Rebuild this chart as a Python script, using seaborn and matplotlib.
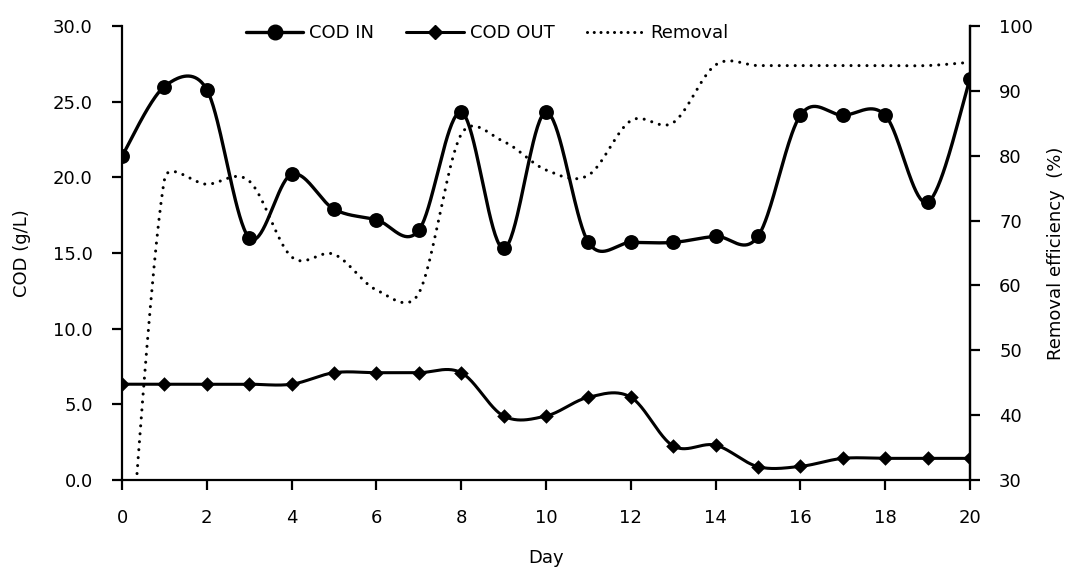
import numpy as np
import pandas as pd
import matplotlib
matplotlib.use("Agg")
import matplotlib.pyplot as plt
from matplotlib.lines import Line2D
from matplotlib.ticker import FormatStrFormatter
import seaborn as sns

# Daily COD measurements (g/L) and removal efficiency (%)
days = list(range(21))
cod_in = [21.4, 26.0, 25.8, 16.0, 20.2, 17.9, 17.2, 16.5, 24.3, 15.3, 24.3,
          15.7, 15.7, 15.7, 16.1, 16.1, 24.1, 24.1, 24.1, 18.35, 26.5]
cod_out = [6.33, 6.33, 6.33, 6.33, 6.33, 7.09, 7.09, 7.09, 7.09, 4.23, 4.23,
           5.47, 5.47, 2.25, 2.3, 0.88, 0.9, 1.43, 1.43, 1.43, 1.43]
removal = [0.0, 76.3, 75.6, 76.1, 64.4, 64.8, 59.3, 58.8, 83.3, 82.2, 77.8,
           77.0, 85.4, 85.1, 94.0, 93.9, 93.9, 93.9, 93.9, 93.9, 94.4]

x_ticks = list(range(0, 21, 2))
left_ticks = [0, 5, 10, 15, 20, 25, 30]
right_ticks = [30, 40, 50, 60, 70, 80, 90, 100]

FS = 13


def smooth_curve(axis, x, y, n=40):
    """Smoothed-line Bezier through the points, built in display space
    (control arms of 1/6 of the neighbour chord, capped at half the
    segment length)."""
    pts = axis.transData.transform(np.column_stack([x, y]).astype(float))
    ext = np.vstack([pts[:1], pts, pts[-1:]])
    t = np.linspace(0, 1, n, endpoint=False)[:, None]
    segs = []
    for i in range(len(pts) - 1):
        p0, p1, p2, p3 = ext[i], ext[i + 1], ext[i + 2], ext[i + 3]
        d01 = np.hypot(*(p1 - p0))
        d12 = np.hypot(*(p2 - p1))
        d23 = np.hypot(*(p3 - p2))
        f = 1 / 6 if d01 / 6 < d12 / 2 else d12 / d01 / 2
        g = 1 / 6 if d23 / 6 < d12 / 2 else d12 / d23 / 2
        c1 = p1 + f * (p2 - p0)
        c2 = p2 + g * (p1 - p3)
        seg = ((1 - t) ** 3 * p1 + 3 * (1 - t) ** 2 * t * c1
               + 3 * (1 - t) * t ** 2 * c2 + t ** 3 * p2)
        segs.append(seg)
    segs.append(pts[-1:])
    curve = axis.transData.inverted().transform(np.vstack(segs))
    return pd.DataFrame({"x": curve[:, 0], "y": curve[:, 1]})


sns.set_style("ticks")
plt.rcParams["font.family"] = ["DejaVu Sans"]
plt.rcParams["axes.linewidth"] = 1.6
plt.rcParams["text.color"] = "black"
plt.rcParams["axes.labelcolor"] = "black"
plt.rcParams["xtick.color"] = "black"
plt.rcParams["ytick.color"] = "black"
plt.rcParams["axes.edgecolor"] = "black"

fig, ax = plt.subplots(figsize=(10.65, 5.68), dpi=100)
fig.subplots_adjust(left=122 / 1065, right=970 / 1065,
                    bottom=1 - 480 / 568, top=1 - 26 / 568)
ax2 = ax.twinx()

ax.set_xlim(0, 20)
ax.set_ylim(0, 30)
ax2.set_xlim(0, 20)
ax2.set_ylim(30, 100)

# COD IN
s_in = smooth_curve(ax, days, cod_in)
sns.lineplot(data=s_in, x="x", y="y", ax=ax, sort=False, estimator=None,
             color="black", linewidth=2.4)
sns.scatterplot(x=days, y=cod_in, ax=ax, marker="o", s=115, color="black",
                edgecolor="black", linewidth=0, zorder=5)

# COD OUT
s_out = smooth_curve(ax, days, cod_out)
sns.lineplot(data=s_out, x="x", y="y", ax=ax, sort=False, estimator=None,
             color="black", linewidth=2.2)
sns.scatterplot(x=days, y=cod_out, ax=ax, marker="D", s=55, color="black",
                edgecolor="black", linewidth=0, zorder=5)

# Removal efficiency
s_rem = smooth_curve(ax2, days, removal)
sns.lineplot(data=s_rem, x="x", y="y", ax=ax2, sort=False, estimator=None,
             color="black", linewidth=2.2)
rem_line = ax2.get_lines()[-1]
rem_line.set_linestyle((0, (0.01, 2.6)))
rem_line.set_dash_capstyle("round")

ax.set_xlim(0, 20)
ax.set_ylim(0, 30)
ax2.set_ylim(30, 100)
ax.set_xticks(x_ticks)
ax.set_yticks(left_ticks)
ax2.set_yticks(right_ticks)
ax.yaxis.set_major_formatter(FormatStrFormatter("%.1f"))

for a in (ax, ax2):
    a.spines["top"].set_visible(False)
    for s in a.spines.values():
        s.set_linewidth(1.6)
        s.set_color("black")
    a.tick_params(direction="out", length=7, width=1.6, labelsize=FS,
                  pad=14, colors="black")
ax2.spines["left"].set_visible(False)
ax2.spines["bottom"].set_visible(False)

ax.set_xlabel("Day", fontsize=FS, color="black")
ax.xaxis.set_label_coords(0.5, -0.152)
ax.set_ylabel("COD (g/L)", fontsize=FS, color="black")
ax.yaxis.set_label_coords(-0.107, 0.5)
ax2.set_ylabel("Removal efficiency  (%)", fontsize=FS, color="black")
ax2.yaxis.set_label_coords(1.091, 0.5)

handles = [
    Line2D([], [], color="black", linewidth=2.4, marker="o", markersize=10.5),
    Line2D([], [], color="black", linewidth=2.2, marker="D", markersize=7),
    Line2D([], [], color="black", linewidth=2.2, linestyle=(0, (0.01, 2.2)),
           dash_capstyle="round"),
]
leg = fig.legend(handles, ["COD IN", "COD OUT", "Removal"], loc="center",
                 bbox_to_anchor=(487 / 1065, 1 - 33 / 568), ncol=3,
                 frameon=False, fontsize=FS, handlelength=3.2,
                 handletextpad=0.3, columnspacing=1.8)
for txt in leg.get_texts():
    txt.set_color("black")

fig.savefig("out.png", dpi=100)
